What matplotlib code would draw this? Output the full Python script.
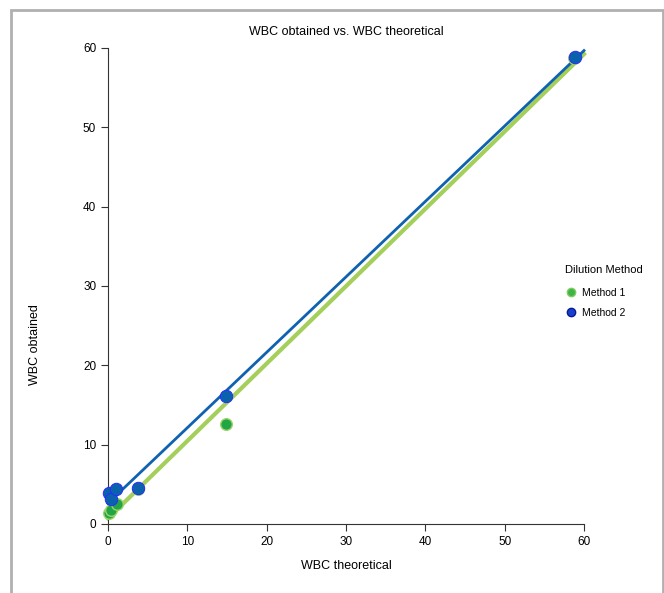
import matplotlib
matplotlib.use("Agg")
import matplotlib.pyplot as plt
import numpy as np
from matplotlib.lines import Line2D
from matplotlib.patches import Rectangle

plt.rcParams['font.family'] = ['Liberation Sans', 'DejaVu Sans']

m1_x = [0.1, 0.33, 1.1, 3.8, 14.85, 58.8]
m1_y = [1.35, 1.77, 2.5, 4.4, 12.6, 58.7]
m2_x = [0.1, 0.4, 1.0, 3.8, 14.9, 58.9]
m2_y = [3.95, 3.1, 4.4, 4.5, 16.1, 58.9]
ticks = [0, 10, 20, 30, 40, 50, 60]

W, H = 664, 593
fig = plt.figure(figsize=(W/100, H/100), dpi=100)
ax = fig.add_axes([108/W, 1-524/H, 476/W, 476/H])

# figure border
fig.patches.append(Rectangle((11/W, -0.05), (663-11)/W, 1.05-10/H, transform=fig.transFigure,
                             fill=False, edgecolor='#b0b0b0', linewidth=2))

xs = np.array([0, 60])
c1 = np.polyfit(m1_x, m1_y, 1)
c2 = np.polyfit(m2_x, m2_y, 1)
ax.plot(xs, np.polyval(c1, xs), color='#a3cf5a', lw=3, zorder=2, clip_on=False)
ax.plot(xs, np.polyval(c2, xs), color='#0f62b0', lw=2, zorder=3, clip_on=False)

ax.scatter(m1_x, m1_y, s=70, color='#21a645', edgecolors='#9ed36a', linewidths=1, zorder=4, clip_on=False)
ax.scatter(m2_x, m2_y, s=80, color='#0b62ac', edgecolors='#2a2aff', linewidths=0.7, zorder=5, clip_on=False)

ax.set_xlim(0, 60)
ax.set_ylim(0, 60)
ax.set_xticks(ticks)
ax.set_yticks(ticks)
for s in ['top', 'right']:
    ax.spines[s].set_visible(False)
for s in ['left', 'bottom']:
    ax.spines[s].set_color('#333333')
ax.tick_params(labelsize=8.5, colors='#333333', length=5, labelcolor='black')

fig.text(346/W, 1-32/H, 'WBC obtained vs. WBC theoretical', ha='center', va='center', fontsize=9)
fig.text(346/W, 1-566/H, 'WBC theoretical', ha='center', va='center', fontsize=9)
fig.text(35/W, 1-345/H, 'WBC obtained', ha='center', va='center', fontsize=9, rotation=90)

handles = [Line2D([], [], ls='', marker='o', ms=6, color='#3db54a', mec='#7fcc5a'),
           Line2D([], [], ls='', marker='o', ms=6, color='#1840d0', mec='#0a1a90')]
leg = fig.legend(handles, ['Method 1', 'Method 2'], title='Dilution Method', loc='upper left',
                 bbox_to_anchor=(556/W, 1-256/H), frameon=False, fontsize=7.5, title_fontsize=8,
                 handletextpad=0.6, labelspacing=0.95, handlelength=1.0)
leg._legend_box.align = 'left'
leg._legend_box.sep = 9

fig.savefig('out.png', dpi=100)
